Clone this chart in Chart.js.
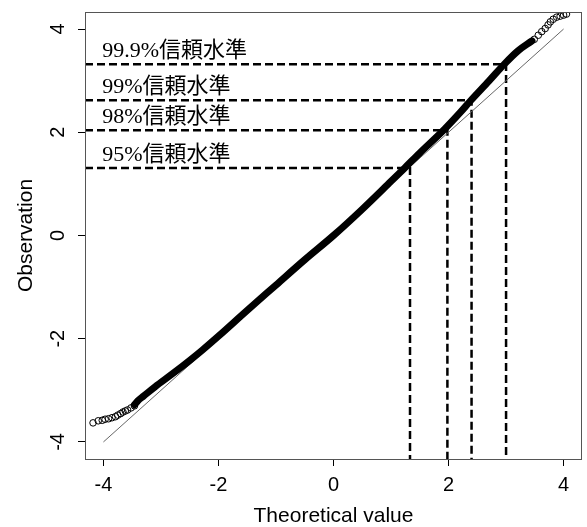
<!DOCTYPE html>
<html>
<head>
<meta charset="utf-8">
<script src="https://cdn.jsdelivr.net/npm/chart.js@4.4.1/dist/chart.umd.min.js"></script>
<style>
  html, body { margin: 0; padding: 0; background: #fff; }
  canvas { display: block; }
</style>
</head>
<body>
<canvas id="qq" width="587" height="527"></canvas>
<script>
const xTicks = [-4, -2, 0, 2, 4];
const yTicks = [-4, -2, 0, 2, 4];
const xRange = [-4.32, 4.32];
const yRange = [-4.33, 4.33];

// dense middle part of the QQ points (drawn as a thick band)
const bodyX = [-3.46, -3.40, -3.30, -3.10, -2.80, -2.50, -2.28, -2.00, -1.50, -1.00, -0.50, 0.00, 0.50, 1.00, 1.23, 1.50, 1.93, 2.20, 2.39, 2.70, 2.97, 3.20, 3.45];
const bodyY = [-3.28, -3.20, -3.11, -2.93, -2.68, -2.42, -2.22, -1.95, -1.45, -0.96, -0.47, 0.00, 0.51, 1.05, 1.30, 1.60, 2.06, 2.38, 2.62, 2.99, 3.32, 3.57, 3.77];

// separate circles in the tails
const tailX = [-4.18, -4.09, -4.02, -3.97, -3.91, -3.85, -3.79, -3.75, -3.70, -3.66, -3.62, -3.58, -3.52, -3.46,
               3.49, 3.56, 3.62, 3.68, 3.73, 3.77, 3.82, 3.88, 3.94, 4.00, 4.05];
const tailY = [-3.63, -3.59, -3.58, -3.56, -3.55, -3.53, -3.51, -3.48, -3.45, -3.42, -3.40, -3.38, -3.34, -3.30,
               3.80, 3.88, 3.95, 4.01, 4.08, 4.14, 4.19, 4.23, 4.25, 4.27, 4.29];

const refX = [-4, 4];
const refY = [-4, 4];

const levels = ['95%', '98%', '99%', '99.9%'];
const levelX = [1.33, 1.98, 2.40, 3.00];
const levelY = [1.31, 2.04, 2.62, 3.32];

const toPoints = (xs, ys) => xs.map((x, i) => ({ x: x, y: ys[i] }));

const dashSets = levels.map((name, i) => {
    return {
        label: name,
        data: [
            { x: xRange[0], y: levelY[i] },
            { x: levelX[i], y: levelY[i] },
            { x: levelX[i], y: yRange[0] }
        ],
        showLine: true,
        borderColor: '#000',
        borderWidth: 2.5,
        borderDash: [8, 4],
        pointRadius: 0,
        order: 3
    }
});

const labelPlugin = {
    id: 'levelLabels',
    afterDatasetsDraw(chart) {
        const ctx = chart.ctx;
        const xs = chart.scales.x;
        const ys = chart.scales.y;
        ctx.save();
        ctx.fillStyle = '#000';
        ctx.font = '22px "Liberation Serif", "Noto Sans CJK JP", serif';
        ctx.textBaseline = 'middle';
        ctx.textAlign = 'left';
        levels.forEach((name, i) => {
            const px = xs.getPixelForValue(-4.02);
            const py = ys.getPixelForValue(levelY[i]) - 13;
            ctx.fillText(name + '信頼水準', px, py);
        });
        ctx.restore();
    }
};

const boxPlugin = {
    id: 'plotBox',
    afterDraw(chart) {
        const a = chart.chartArea;
        const ctx = chart.ctx;
        ctx.save();
        ctx.strokeStyle = '#555';
        ctx.lineWidth = 1;
        ctx.strokeRect(Math.round(a.left) + 0.5, Math.round(a.top) + 0.5,
            Math.round(a.right - a.left) - 1, Math.round(a.bottom - a.top));
        ctx.restore();
    }
};

const tickFont = { family: '"Liberation Sans", Arial, sans-serif', size: 20 };
const titleFont = { family: '"Liberation Sans", Arial, sans-serif', size: 21, lineHeight: 1 };

new Chart(document.getElementById('qq').getContext('2d'), {
    type: 'scatter',
    data: {
        datasets: [
            {
                label: 'body',
                data: toPoints(bodyX, bodyY),
                showLine: true,
                borderColor: '#000',
                borderWidth: 7,
                borderCapStyle: 'round',
                borderJoinStyle: 'round',
                cubicInterpolationMode: 'monotone',
                pointRadius: 0,
                order: 1
            },
            {
                label: 'tails',
                data: toPoints(tailX, tailY),
                borderColor: '#000',
                backgroundColor: 'rgba(0,0,0,0)',
                borderWidth: 1,
                pointRadius: 3.3,
                order: 1
            },
            {
                label: 'ref',
                data: toPoints(refX, refY),
                showLine: true,
                borderColor: '#666',
                borderWidth: 1,
                pointRadius: 0,
                order: 2
            },
            ...dashSets
        ]
    },
    options: {
        responsive: false,
        animation: false,
        devicePixelRatio: 1,
        layout: { padding: { top: 12, right: 1, bottom: 0, left: 0 } },
        plugins: { legend: { display: false }, tooltip: { enabled: false } },
        scales: {
            x: {
                type: 'linear',
                min: xRange[0],
                max: xRange[1],
                afterBuildTicks: (s) => { s.ticks = xTicks.map(v => ({ value: v })) },
                afterFit: (s) => { s.height = 68; s.paddingLeft = 0; s.paddingRight = 0 },
                border: { display: false },
                grid: { drawOnChartArea: false, drawTicks: true, tickLength: 7, color: '#000', tickColor: '#000' },
                ticks: { color: '#000', font: tickFont, padding: 7, maxRotation: 0 },
                title: { display: true, text: 'Theoretical value', color: '#000', font: titleFont, padding: { top: 0, bottom: 0 } }
            },
            y: {
                type: 'linear',
                min: yRange[0],
                max: yRange[1],
                afterBuildTicks: (s) => { s.ticks = yTicks.map(v => ({ value: v })) },
                afterFit: (s) => { s.width = 85; s.paddingTop = 0; s.paddingBottom = 0 },
                border: { display: false },
                grid: { drawOnChartArea: false, drawTicks: true, tickLength: 7, color: '#000', tickColor: '#000' },
                ticks: { color: '#000', font: tickFont, padding: 11, minRotation: 90, maxRotation: 90, crossAlign: 'center' },
                title: { display: true, text: 'Observation', color: '#000', font: titleFont, padding: { top: 16, bottom: 0 } }
            }
        }
    },
    plugins: [labelPlugin, boxPlugin]
});
</script>
</body>
</html>
